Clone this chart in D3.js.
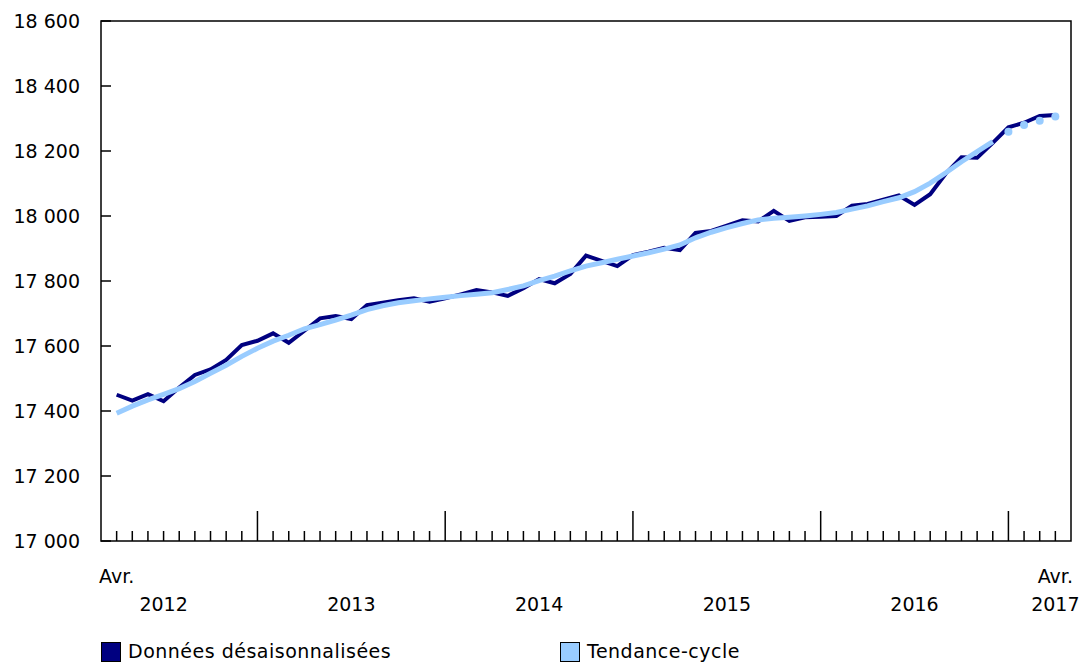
<!DOCTYPE html>
<html>
<head>
<meta charset="utf-8">
<script src="https://cdn.jsdelivr.net/npm/d3@7"></script>
<style>
    body { margin: 0; background: #fff; }
    svg text { font-family: Verdana, "DejaVu Sans", sans-serif; font-size: 19px; fill: #000; }
</style>
</head>
<body>
<svg id="chart" width="1082" height="662"></svg>
<script>
const width = 1082;
const height = 662;
const margin = { top: 21, right: 11, bottom: 121, left: 101 };

// months from Apr 2012 to Apr 2017
const months = d3.timeMonth.range(new Date(2012, 3, 1), new Date(2017, 4, 1));

// seasonally adjusted series (thousands)
const adjusted = [
    17450, 17432, 17452, 17430, 17472, 17511, 17528, 17557, 17603,
    17616, 17639, 17610, 17647, 17685, 17692, 17683, 17726, 17733, 17741, 17747, 17736,
    17747, 17759, 17772, 17765, 17754, 17778, 17806, 17793, 17822, 17878, 17862, 17846,
    17880, 17890, 17902, 17895, 17948, 17954, 17970, 17987, 17983, 18016, 17985, 17996,
    17998, 18000, 18032, 18037, 18050, 18063, 18034, 18067, 18131, 18181, 18179, 18225,
    18273, 18287, 18308, 18311
];

// trend-cycle, last four months are shown as dots
const trend = [
    17393, 17415, 17434, 17451, 17469, 17491, 17516, 17541, 17568,
    17593, 17615, 17633, 17653, 17666, 17680, 17695, 17712, 17724, 17733, 17739, 17745,
    17750, 17755, 17759, 17764, 17774, 17785, 17801, 17815, 17831, 17846, 17856, 17867,
    17877, 17887, 17898, 17911, 17933, 17950, 17964, 17977, 17988, 17993, 17996, 18000,
    18005, 18011, 18021, 18031, 18044, 18056, 18075, 18101, 18133, 18167, 18198, 18229
];
const trendDots = [18259, 18280, 18293, 18306];

const yTicks = [17000, 17200, 17400, 17600, 17800, 18000, 18200, 18400, 18600];
const firstMonthLabel = "Avr.";
const lastMonthLabel = "Avr.";

const svg = d3.select("#chart");

const xScale = d3.scaleLinear()
    .domain([-1, months.length])
    .range([margin.left, width - margin.right]);

const yScale = d3.scaleLinear()
    .domain([17000, 18600])
    .range([height - margin.bottom, margin.top]);

const x0 = xScale.range()[0], x1 = xScale.range()[1];
const yBottom = yScale(17000), yTop = yScale(18600);

// frame
svg.append("rect")
    .attr("x", x0)
    .attr("y", yTop)
    .attr("width", x1 - x0)
    .attr("height", yBottom - yTop)
    .attr("fill", "none")
    .attr("stroke", "#000")
    .attr("stroke-width", 1.5);

// y ticks and labels
yTicks.forEach(function (t) {
    svg.append("line")
        .attr("x1", x0).attr("x2", x0 + 10)
        .attr("y1", yScale(t)).attr("y2", yScale(t))
        .attr("stroke", "#000")
        .attr("stroke-width", 1.5);
    svg.append("text")
        .attr("x", 80)
        .attr("y", yScale(t))
        .attr("dy", "0.35em")
        .attr("text-anchor", "end")
        .text(d3.format(",")(t).replace(",", " "));
});

// x ticks: months, longer at January
months.forEach(function (m, i) {
    const isJan = m.getMonth() === 0;
    svg.append("line")
        .attr("x1", xScale(i)).attr("x2", xScale(i))
        .attr("y1", yBottom).attr("y2", yBottom - (isJan ? 30 : 10))
        .attr("stroke", "#000")
        .attr("stroke-width", 1.5);
});

// year labels centred on the calendar year
const years = d3.range(2012, 2018);
years.forEach(function (yr) {
    const janIndex = (yr - 2012) * 12 - 3;
    let cx = janIndex + 6;
    if (cx > months.length - 1) cx = months.length - 1;
    svg.append("text")
        .attr("x", xScale(cx))
        .attr("y", 611)
        .attr("text-anchor", "middle")
        .text(yr);
});
svg.append("text")
    .attr("x", xScale(0))
    .attr("y", 583)
    .attr("text-anchor", "middle")
    .text(firstMonthLabel);
svg.append("text")
    .attr("x", xScale(months.length - 1))
    .attr("y", 583)
    .attr("text-anchor", "middle")
    .text(lastMonthLabel);

// lines
const line = d3.line()
    .x(function (d, i) { return xScale(i); })
    .y(function (d) { return yScale(d); });

svg.append("path")
    .datum(adjusted)
    .attr("fill", "none")
    .attr("stroke", "#000080")
    .attr("stroke-width", 4)
    .attr("stroke-linejoin", "miter")
    .attr("d", line);

svg.append("path")
    .datum(trend)
    .attr("fill", "none")
    .attr("stroke", "#99ccff")
    .attr("stroke-width", 5)
    .attr("d", line);

svg.selectAll(".dot")
    .data(trendDots)
    .enter()
    .append("circle")
    .attr("class", "dot")
    .attr("cx", function (d, i) { return xScale(trend.length + i); })
    .attr("cy", function (d) { return yScale(d); })
    .attr("r", 4)
    .attr("fill", "#99ccff");

// legend
const legend = [
    { label: "Données désaisonnalisées", color: "#000080", x: 101 },
    { label: "Tendance-cycle", color: "#99ccff", x: 560 }
];
legend.forEach(function (l) {
    svg.append("rect")
        .attr("x", l.x + 0.5)
        .attr("y", 642.5)
        .attr("width", 19)
        .attr("height", 19)
        .attr("fill", l.color)
        .attr("stroke", "#000")
        .attr("stroke-width", 1);
    svg.append("text")
        .attr("x", l.x + 27)
        .attr("y", 658)
        .attr("letter-spacing", "0.5px")
        .text(l.label);
});
</script>
</body>
</html>
